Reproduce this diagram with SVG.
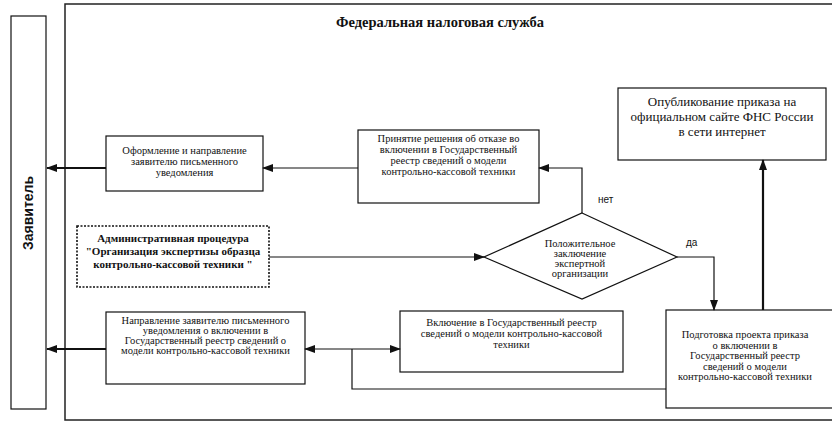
<svg xmlns="http://www.w3.org/2000/svg" width="832" height="427" viewBox="0 0 832 427">
<style>
.box{fill:#fff;stroke:#111;stroke-width:1.2}
.t{font-family:"Liberation Serif","Times New Roman",serif;font-size:10.5px;fill:#111;text-anchor:middle}
.tb{font-family:"Liberation Serif","Times New Roman",serif;font-size:11px;font-weight:bold;fill:#111;text-anchor:middle}
.big{font-family:"Liberation Serif","Times New Roman",serif;font-size:13px;fill:#111;text-anchor:middle}
.s{font-family:"Liberation Sans",Arial,sans-serif;font-size:10px;fill:#111}
.c{fill:none;stroke:#111;stroke-width:1.2}
.ct{fill:none;stroke:#111;stroke-width:2.2}
</style>
<defs>
<marker id="ah" markerUnits="userSpaceOnUse" markerWidth="11" markerHeight="8" refX="10" refY="4" orient="auto">
<path d="M0,0 L11,4 L0,8 z" fill="#111"/>
</marker>
</defs>
<rect width="832" height="427" fill="#fff"/>
<g id="frame">
<rect x="65" y="4" width="770" height="416" fill="none" stroke="#222" stroke-width="1.5"/>
<text x="440" y="27" class="big" font-weight="bold" style="font-size:14.5px">Федеральная налоговая служба</text>
</g>
<g id="zayavitel">
<rect x="11" y="16" width="35" height="393" class="box"/>
<text transform="translate(33,213) rotate(-90)" text-anchor="middle" font-family="Liberation Sans, Arial, sans-serif" font-size="14" font-weight="bold" fill="#111">Заявитель</text>
</g>
<g id="oformlenie">
<rect x="106" y="136" width="157" height="55" class="box"/>
<text class="t" x="184.5" y="154">Оформление и направление</text>
<text class="t" x="184.5" y="165">заявителю письменного</text>
<text class="t" x="184.5" y="176">уведомления</text>
</g>
<g id="prinyatie">
<rect x="358" y="130" width="181" height="73" class="box"/>
<text class="t" x="448.5" y="142">Принятие решения об отказе во</text>
<text class="t" x="448.5" y="153">включении в Государственный</text>
<text class="t" x="448.5" y="164">реестр сведений о модели</text>
<text class="t" x="448.5" y="175">контрольно-кассовой техники</text>
</g>
<g id="opublikovanie">
<rect x="618" y="88" width="208" height="72" class="box"/>
<text class="big" x="722" y="106">Опубликование приказа на</text>
<text class="big" x="722" y="121">официальном сайте ФНС России</text>
<text class="big" x="722" y="136">в сети интернет</text>
</g>
<g id="admin">
<rect x="77" y="226" width="192" height="61" fill="#fff" stroke="#111" stroke-width="1.6" stroke-dasharray="2,1.5"/>
<text class="tb" x="173" y="242">Административная процедура</text>
<text class="tb" x="173" y="255">"Организация экспертизы образца</text>
<text class="tb" x="173" y="268">контрольно-кассовой техники "</text>
</g>
<g id="decision">
<polygon points="582,213 677,257 582,299 484,257" class="box"/>
<text class="t" x="580" y="247">Положительное</text>
<text class="t" x="580" y="257">заключение</text>
<text class="t" x="580" y="267">экспертной</text>
<text class="t" x="580" y="277">организации</text>
</g>
<g id="napravlenie">
<rect x="106" y="312" width="199" height="72" class="box"/>
<text class="t" x="205.5" y="324">Направление заявителю письменного</text>
<text class="t" x="205.5" y="334">уведомления о включении в</text>
<text class="t" x="205.5" y="344">Государственный реестр сведений о</text>
<text class="t" x="205.5" y="354">модели контрольно-кассовой техники</text>
</g>
<g id="vklyuchenie">
<rect x="400" y="311" width="223" height="61" class="box"/>
<text class="t" x="511.5" y="326">Включение в Государственный реестр</text>
<text class="t" x="511.5" y="337">сведений о модели контрольно-кассовой</text>
<text class="t" x="511.5" y="348">техники</text>
</g>
<g id="podgotovka">
<rect x="666" y="310" width="170" height="98" class="box"/>
<text class="t" x="745" y="338">Подготовка проекта приказа</text>
<text class="t" x="745" y="349">о включении в</text>
<text class="t" x="745" y="359">Государственный реестр</text>
<text class="t" x="745" y="370">сведений о модели</text>
<text class="t" x="745" y="380">контрольно-кассовой техники</text>
</g>
<g id="connectors">
<path class="ct" d="M106,168 H47" marker-end="url(#ah)"/>
<path class="c" d="M358,168 H263" marker-end="url(#ah)"/>
<path class="c" d="M582,213 V168 H539" marker-end="url(#ah)"/>
<path class="c" d="M269,257 H484" marker-end="url(#ah)"/>
<path class="c" d="M677,257 H714 V310" marker-end="url(#ah)"/>
<path class="ct" d="M763,310 V160" marker-end="url(#ah)"/>
<path class="ct" d="M106,349 H47" marker-end="url(#ah)"/>
<path class="c" d="M666,389 H352 V349"/>
<path class="c" d="M352,349 H305" marker-end="url(#ah)"/>
<path class="c" d="M352,349 H400" marker-end="url(#ah)"/>
<text class="s" x="598" y="203">нет</text>
<text class="s" x="686" y="246">да</text>
</g>
</svg>
